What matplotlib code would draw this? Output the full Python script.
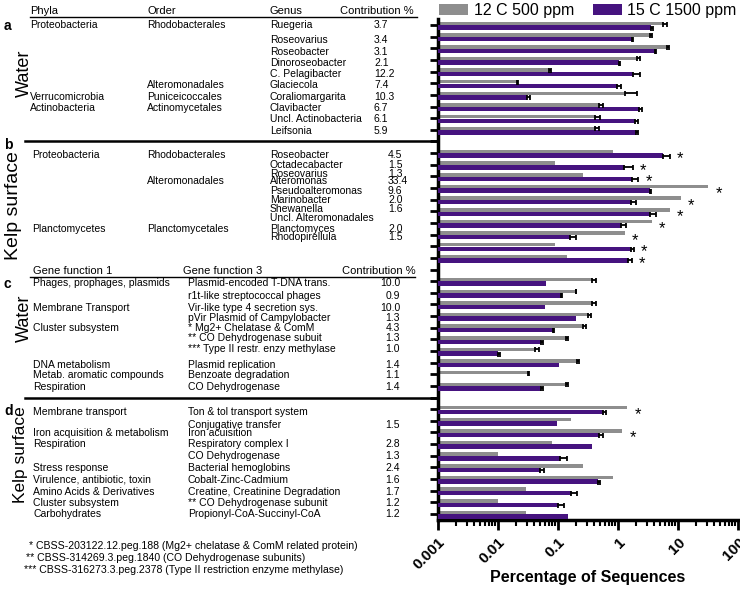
import numpy as np
import matplotlib
matplotlib.use('Agg')
import matplotlib.pyplot as plt
from matplotlib.lines import Line2D
from matplotlib.transforms import blended_transform_factory

plt.rcParams['font.family'] = ['Liberation Sans', 'DejaVu Sans']

W, H = 740, 592
GRAY = '#8e8e8e'
PURPLE = '#46137f'

# --- values (percentage of sequences) ---
# a: water, genera
a_gray = [5.7, 3.42, 6.47, 2.05, 0.072, 0.0205, 1.31, 0.483, 0.414, 0.414]
a_gray_err = [0.8, 0.31, 0.7, 0.31, 0.003, 0.001, 0.74, 0.07, 0.09, 0.06]
a_purple = [3.55, 1.69, 4.14, 1.04, 1.80, 0.95, 0.030, 2.24, 1.92, 1.97]
a_purple_err = [0.23, 0.07, 0.22, 0.04, 0.5, 0.17, 0.004, 0.24, 0.26, 0.16]
# b: kelp surface, genera
b_gray = [0.836, 0.089, 0.264, 32.0, 11.2, 7.36, 3.64, 1.31, 0.089, 0.139]
b_gray_err = [0, 0, 0, 0, 0, 0, 0, 0, 0, 0]
b_purple = [5.7, 1.28, 1.69, 3.42, 1.65, 3.42, 1.12, 0.158, 1.65, 1.49]
b_purple_err = [1.66, 0.48, 0.49, 0.13, 0.35, 0.88, 0.24, 0.039, 0.2, 0.24]
# c: water, gene functions
c_gray = [0.364, 0.197, 0.364, 0.32, 0.264, 0.134, 0.0414, 0.205, 0.032, 0.134]
c_gray_err = [0.066, 0.005, 0.066, 0.035, 0.029, 0.011, 0.0063, 0.019, 0.0013, 0.011]
c_purple = [0.0624, 0.111, 0.061, 0.197, 0.0815, 0.052, 0.0101, 0.104, 0, 0.052]
c_purple_err = [0, 0.006, 0, 0, 0.004, 0.0035, 0.0008, 0, 0, 0.0035]
# d: kelp surface, gene functions
d_gray = [1.43, 0.165, 1.18, 0.078, 0.0099, 0.264, 0.836, 0.0293, 0.0099, 0.0293]
d_gray_err = [0, 0, 0, 0, 0, 0, 0, 0, 0, 0]
d_purple = [0.57, 0.095, 0.489, 0.373, 0.108, 0.050, 0.47, 0.165, 0.099, 0.145]
d_purple_err = [0.054, 0, 0.067, 0, 0.031, 0.008, 0.03, 0.04, 0.029, 0]

a_sig = [False] * 10
b_sig = [True] * 10
c_sig = [False] * 10
d_sig = [True, False, True, False, False, False, False, False, False, False]

series_names = ['12 C 500 ppm', '15 C 1500 ppm']

# table text
a_phyla = ['Proteobacteria', '', '', '', '', '', 'Verrucomicrobia', 'Actinobacteria', '', '']
a_order = ['Rhodobacterales', '', '', '', '', 'Alteromonadales', 'Puniceicoccales', 'Actinomycetales', '', '']
a_genus = ['Ruegeria', 'Roseovarius', 'Roseobacter', 'Dinoroseobacter', 'C. Pelagibacter',
           'Glaciecola', 'Coraliomargarita', 'Clavibacter', 'Uncl. Actinobacteria', 'Leifsonia']
a_contrib = ['3.7', '3.4', '3.1', '2.1', '12.2', '7.4', '10.3', '6.7', '6.1', '5.9']

b_phyla = ['Proteobacteria', '', '', '', '', '', '', '', 'Planctomycetes', '']
b_order = ['Rhodobacterales', '', '', 'Alteromonadales', '', '', '', '', 'Planctomycetales', '']
b_genus = ['Roseobacter', 'Octadecabacter', 'Roseovarius', 'Alteromonas', 'Pseudoalteromonas',
           'Marinobacter', 'Shewanella', 'Uncl. Alteromonadales', 'Planctomyces', 'Rhodopirellula']
b_contrib = ['4.5', '1.5', '1.3', '33.4', '9.6', '2.0', '1.6', '', '2.0', '1.5']

c_func1 = ['Phages, prophages, plasmids', '', 'Membrane Transport', '', 'Cluster subsystem', '', '',
           'DNA metabolism', 'Metab. aromatic compounds', 'Respiration']
c_func3 = ['Plasmid-encoded T-DNA trans.', 'r1t-like streptococcal phages', 'Vir-like type 4 secretion sys.',
           'pVir Plasmid of Campylobacter', '* Mg2+ Chelatase & ComM', '** CO Dehydrogenase subuit',
           '*** Type II restr. enzy methylase', 'Plasmid replication', 'Benzoate degradation',
           'CO Dehydrogenase']
c_contrib = ['10.0', '0.9', '10.0', '1.3', '4.3', '1.3', '1.0', '1.4', '1.1', '1.4']

d_func1 = ['Membrane transport', '', 'Iron acquisition & metabolism', 'Respiration', '', 'Stress response',
           'Virulence, antibiotic, toxin', 'Amino Acids & Derivatives', 'Cluster subsystem', 'Carbohydrates']
d_func3 = ['Ton & tol transport system', 'Conjugative transfer', 'Iron acuisition', 'Respiratory complex I',
           'CO Dehydrogenase', 'Bacterial hemoglobins', 'Cobalt-Zinc-Cadmium',
           'Creatine, Creatinine Degradation', '** CO Dehydrogenase subunit', 'Propionyl-CoA-Succinyl-CoA']
d_contrib = ['', '1.5', '', '2.8', '1.3', '2.4', '1.6', '1.7', '1.2', '1.2']

footnotes = ['* CBSS-203122.12.peg.188 (Mg2+ chelatase & ComM related protein)',
             '** CBSS-314269.3.peg.1840 (CO Dehydrogenase subunits)',
             '*** CBSS-316273.3.peg.2378 (Type II restriction enzyme methylase)']

# --- layout (pixel positions of the table rows) ---
a_ty = [25.5, 40, 52, 63, 74, 85, 97, 108, 119, 131]
b_ty = [155.5, 165.5, 174, 181.5, 191, 200, 209, 218, 228.5, 237]
c_ty = [283, 296, 308, 318, 328, 338, 349, 365, 375, 387]
d_ty = [412, 425, 432.5, 444, 456, 468, 480, 492, 503, 514]
row_start = [0, 11, 22, 33]   # slot of first row of each panel; 10, 21, 32 are gaps

fig = plt.figure(figsize=(W / 100, H / 100), dpi=100)
ax = fig.add_axes([438 / W, 1 - 520 / H, 300 / W, 501 / H])

xmin = 0.001
gray_all = [a_gray, b_gray, c_gray, d_gray]
gray_err_all = [a_gray_err, b_gray_err, c_gray_err, d_gray_err]
purple_all = [a_purple, b_purple, c_purple, d_purple]
purple_err_all = [a_purple_err, b_purple_err, c_purple_err, d_purple_err]
sig_all = [a_sig, b_sig, c_sig, d_sig]

ticks = []
handles = None
for p in range(4):
    y = row_start[p] + np.arange(10)
    g = np.array(gray_all[p], float)
    ge = np.array(gray_err_all[p], float)
    pu = np.array(purple_all[p], float)
    pe = np.array(purple_err_all[p], float)
    yg = y - 0.13
    yp = y + 0.22
    hg = ax.barh(yg, np.clip(g - xmin, 0, None), left=xmin, height=0.30, color=GRAY, zorder=2)
    hp = ax.barh(yp, np.clip(pu - xmin, 0, None), left=xmin, height=0.38, color=PURPLE, zorder=3)
    if handles is None:
        handles = [hg, hp]
    m = ge > 0
    ax.errorbar(g[m], yg[m], xerr=[np.zeros(m.sum()), ge[m]], fmt='none', ecolor='black',
                elinewidth=1.3, capsize=1.8, capthick=1.3, zorder=4)
    m = pe > 0
    ax.errorbar(pu[m], yp[m], xerr=[np.zeros(m.sum()), pe[m]], fmt='none', ecolor='black',
                elinewidth=1.3, capsize=1.8, capthick=1.3, zorder=4)
    for i in range(10):
        if sig_all[p][i]:
            end = max(g[i] + ge[i], pu[i] + pe[i])
            ax.annotate('*', (end, y[i]), xytext=(5, -4), textcoords='offset points',
                        ha='left', va='center', fontsize=12, color='black')
    ticks.extend(list(y))

ticks = sorted(ticks + [10, 21, 32])
ax.set_xscale('log')
ax.set_xlim(xmin, 100)
ax.set_ylim(42.52, -0.52)
ax.set_yticks(ticks)
ax.set_yticklabels([])
ax.set_xticks([0.001, 0.01, 0.1, 1, 10, 100])
ax.set_xticklabels(['0.001', '0.01', '0.1', '1', '10', '100'], rotation=45, ha='right',
                   rotation_mode='anchor', fontsize=11, fontweight='bold')
ax.tick_params(axis='y', direction='out', length=6, width=2)
ax.tick_params(axis='x', which='major', direction='out', length=7, width=2, pad=4)
ax.tick_params(axis='x', which='minor', direction='out', length=4, width=1.5)
for s in ['top', 'right']:
    ax.spines[s].set_visible(False)
for s in ['left', 'bottom']:
    ax.spines[s].set_linewidth(2.5)
ax.set_xlabel('Percentage of Sequences', fontsize=11.5, fontweight='bold')
ax.xaxis.set_label_coords(0.5, -(570 - 520) / 501)

fig.legend(handles, series_names, loc='upper left', bbox_to_anchor=(436 / W, 1.0), ncol=2,
           frameon=False, fontsize=11.5, handlelength=1.8, handleheight=0.75,
           columnspacing=1.2, handletextpad=0.35, borderaxespad=0.1, borderpad=0.1)

# --- table on the left ---
FS = 7.5


def ftext(px, py, s, **kw):
    fig.text(px / W, 1 - py / H, s, va='center', ha=kw.pop('ha', 'left'), fontsize=kw.pop('fontsize', FS), **kw)


def hline(x0, x1, py, lw=1.0):
    fig.add_artist(Line2D([x0 / W, x1 / W], [1 - py / H, 1 - py / H], color='black', lw=lw,
                          transform=fig.transFigure))


# headers
ftext(30, 11, 'Phyla', fontsize=8)
ftext(147, 11, 'Order', fontsize=8)
ftext(269, 11, 'Genus', fontsize=8)
ftext(340, 11, 'Contribution %', fontsize=8)
hline(30, 417, 16.5)
ftext(33, 271, 'Gene function 1', fontsize=8)
ftext(183, 271, 'Gene function 3', fontsize=8)
ftext(342, 271, 'Contribution %', fontsize=8)
hline(30, 415, 277)

# separators aligned with the gap rows of the axis
bt = blended_transform_factory(fig.transFigure, ax.transData)
for r in (10, 32):
    fig.add_artist(Line2D([25 / W, 438 / W], [r, r], color='black', lw=1.8, transform=bt, clip_on=False))

for i in range(10):
    ftext(30, a_ty[i], a_phyla[i])
    ftext(147, a_ty[i], a_order[i])
    ftext(270, a_ty[i], a_genus[i])
    ftext(374, a_ty[i], a_contrib[i])
    ftext(32, b_ty[i], b_phyla[i])
    ftext(147, b_ty[i], b_order[i])
    ftext(270, b_ty[i], b_genus[i])
    ftext(388, b_ty[i], b_contrib[i])
    ftext(33, c_ty[i], c_func1[i])
    ftext(188, c_ty[i], c_func3[i])
    ftext(400, c_ty[i], c_contrib[i], ha='right')
    ftext(33, d_ty[i], d_func1[i])
    ftext(188, d_ty[i], d_func3[i])
    ftext(400, d_ty[i], d_contrib[i], ha='right')

for py, px, s in zip([546, 558, 570], [29, 26, 24], footnotes):
    ftext(px, py, s, fontsize=7.6)

# panel letters and side labels
for s, py in zip('abcd', [26, 145, 284, 411]):
    ftext(4, py, s, fontsize=10, fontweight='bold')
for s, py, px, fs in [('Water', 73, 24, 13), ('Kelp surface', 206, 14, 14),
                      ('Water', 318, 24, 13), ('Kelp surface', 455, 21, 12.5)]:
    fig.text(px / W, 1 - py / H, s, rotation=90, ha='center', va='center', fontsize=fs)

fig.savefig('out.png', dpi=100)
